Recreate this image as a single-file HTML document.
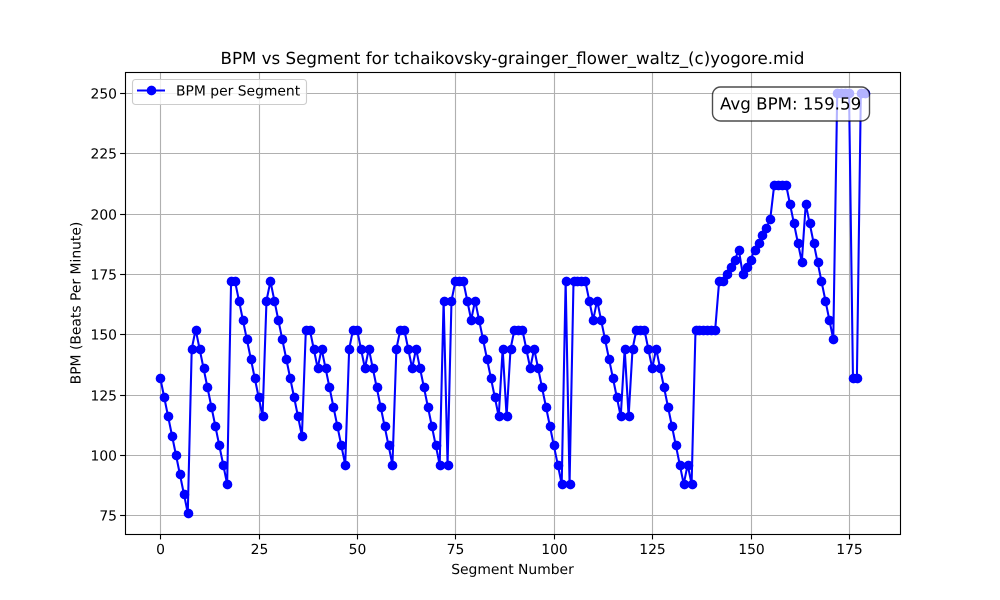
<!DOCTYPE html>
<html lang="en">
<head>
<meta charset="utf-8">
<title>BPM vs Segment</title>
<style>
html,body{margin:0;padding:0;background:#fff;width:1000px;height:600px;overflow:hidden}
svg{display:block}
text{font-family:"DejaVu Sans","Liberation Sans",sans-serif;fill:#000;text-rendering:geometricPrecision}
</style>
</head>
<body>
<svg id="chart" xmlns="http://www.w3.org/2000/svg" width="1000" height="600" viewBox="0 0 1000 600">
  <defs><clipPath id="plot-clip"><rect x="125" y="72" width="775" height="462"/></clipPath></defs>
  <rect width="1000" height="600" fill="#fff"/>
  <rect x="125" y="72" width="775" height="462" fill="#fff"/>
  <g id="grid"></g>
  <g id="series" clip-path="url(#plot-clip)"></g>
  <g id="axes"></g>
  <rect x="125.5" y="72.5" width="775" height="462" fill="none" stroke="#000" stroke-width="1.11"/>
  <text x="512.5" y="64" font-size="16.67" text-anchor="middle">BPM vs Segment for tchaikovsky-grainger_flower_waltz_(c)yogore.mid</text>
  <text x="512.5" y="574" font-size="13.89" text-anchor="middle">Segment Number</text>
  <text transform="translate(80.5 303) rotate(-90)" font-size="13.89" text-anchor="middle">BPM (Beats Per Minute)</text>
  <g>
    <rect x="132.5" y="79.5" width="174" height="25" rx="3" ry="3" fill="#fff" fill-opacity="0.8" stroke="#ccc" stroke-width="1.11"/>
    <line x1="137" y1="90.5" x2="165" y2="90.5" stroke="#00f" stroke-width="2.08"/>
    <circle cx="151.5" cy="90.5" r="4.85" fill="#00f"/>
    <text x="176" y="95.5" font-size="13.89">BPM per Segment</text>
  </g>
  <g>
    <rect x="712.5" y="87" width="157" height="34" rx="8" ry="8" fill="#fff" fill-opacity="0.7" stroke="#000" stroke-opacity="0.7" stroke-width="1.39"/>
    <text x="720" y="109.5" font-size="16.67">Avg BPM: 159.59</text>
  </g>
</svg>
<script>
const bpmValues = [
  132,124,116,108,100,92,84,76,144,152,144,136,128,120,112,104,96,88,172,172,
  164,156,148,140,132,124,116,164,172,164,156,148,140,132,124,116,108,152,152,144,
  136,144,136,128,120,112,104,96,144,152,152,144,136,144,136,128,120,112,104,96,
  144,152,152,144,136,144,136,128,120,112,104,96,164,96,164,172,172,172,164,156,
  164,156,148,140,132,124,116,144,116,144,152,152,152,144,136,144,136,128,120,112,
  104,96,88,172,88,172,172,172,172,164,156,164,156,148,140,132,124,116,144,116,
  144,152,152,152,144,136,144,136,128,120,112,104,96,88,96,88,152,152,152,152,
  152,152,172,172,175,178,181,185,175,178,181,185,188,191,194,198,212,212,212,212,
  204,196,188,180,204,196,188,180,172,164,156,148,250,250,250,250,132,132,250,250
];
const xTickValues = [0,25,50,75,100,125,150,175];
const yTickValues = [75,100,125,150,175,200,225,250];

const NS = 'http://www.w3.org/2000/svg';
const plot = {left:125, right:900, top:72, bottom:534};

const xMinData = 0;
const xMaxData = bpmValues.length - 1;
const yMinData = Math.min.apply(null, bpmValues);
const yMaxData = Math.max.apply(null, bpmValues);
const xPad = (xMaxData - xMinData) * 0.05;
const yPad = (yMaxData - yMinData) * 0.05;

function xScale(v){
  return plot.left + (v - (xMinData - xPad)) / ((xMaxData + xPad) - (xMinData - xPad)) * (plot.right - plot.left);
}
function yScale(v){
  return plot.bottom - (v - (yMinData - yPad)) / ((yMaxData + yPad) - (yMinData - yPad)) * (plot.bottom - plot.top);
}
function snap(p){
  return Math.floor(p + 0.5) + 0.5;
}
function make(tag, attrs, parent){
  const el = document.createElementNS(NS, tag);
  for (const k in attrs) el.setAttribute(k, attrs[k]);
  parent.appendChild(el);
  return el;
}

const gridGroup = document.getElementById('grid');
const axesGroup = document.getElementById('axes');
const seriesGroup = document.getElementById('series');

xTickValues.forEach(function(t){
  const px = snap(xScale(t));
  const g = make('line', {x1:px, x2:px, y1:plot.top, y2:plot.bottom, stroke:'#b0b0b0', 'stroke-width':1.11}, gridGroup);
  
  
  const m = make('line', {x1:px, x2:px, y1:plot.bottom, y2:plot.bottom + 5.4, stroke:'#000', 'stroke-width':1.11}, axesGroup);
  
  
  const l = make('text', {x:px, y:plot.bottom + 20, 'font-size':13.89, 'text-anchor':'middle'}, axesGroup);
  
  
  l.textContent = String(t);
});

yTickValues.forEach(function(t){
  const py = snap(yScale(t));
  const g = make('line', {x1:plot.left, x2:plot.right, y1:py, y2:py, stroke:'#b0b0b0', 'stroke-width':1.11}, gridGroup);
  
  
  const m = make('line', {x1:plot.left - 4.9, x2:plot.left, y1:py, y2:py, stroke:'#000', 'stroke-width':1.11}, axesGroup);
  
  
  const l = make('text', {x:plot.left - 8, y:py + 5, 'font-size':13.89, 'text-anchor':'end'}, axesGroup);
  
  
  l.textContent = String(t);
});

const linePoints = bpmValues.map(function(v, i){
  return xScale(i).toFixed(2) + ',' + yScale(v).toFixed(2);
}).join(' ');
const seriesLine = make('polyline', {points:linePoints, fill:'none', stroke:'#00f', 'stroke-width':2.08, 'stroke-linejoin':'round'}, seriesGroup);



bpmValues.forEach(function(v, i){
  const c = make('circle', {cx:snap(xScale(i)), cy:snap(yScale(v)), r:4.85, fill:'#00f'}, seriesGroup);
  
  
});
</script>
</body>
</html>
